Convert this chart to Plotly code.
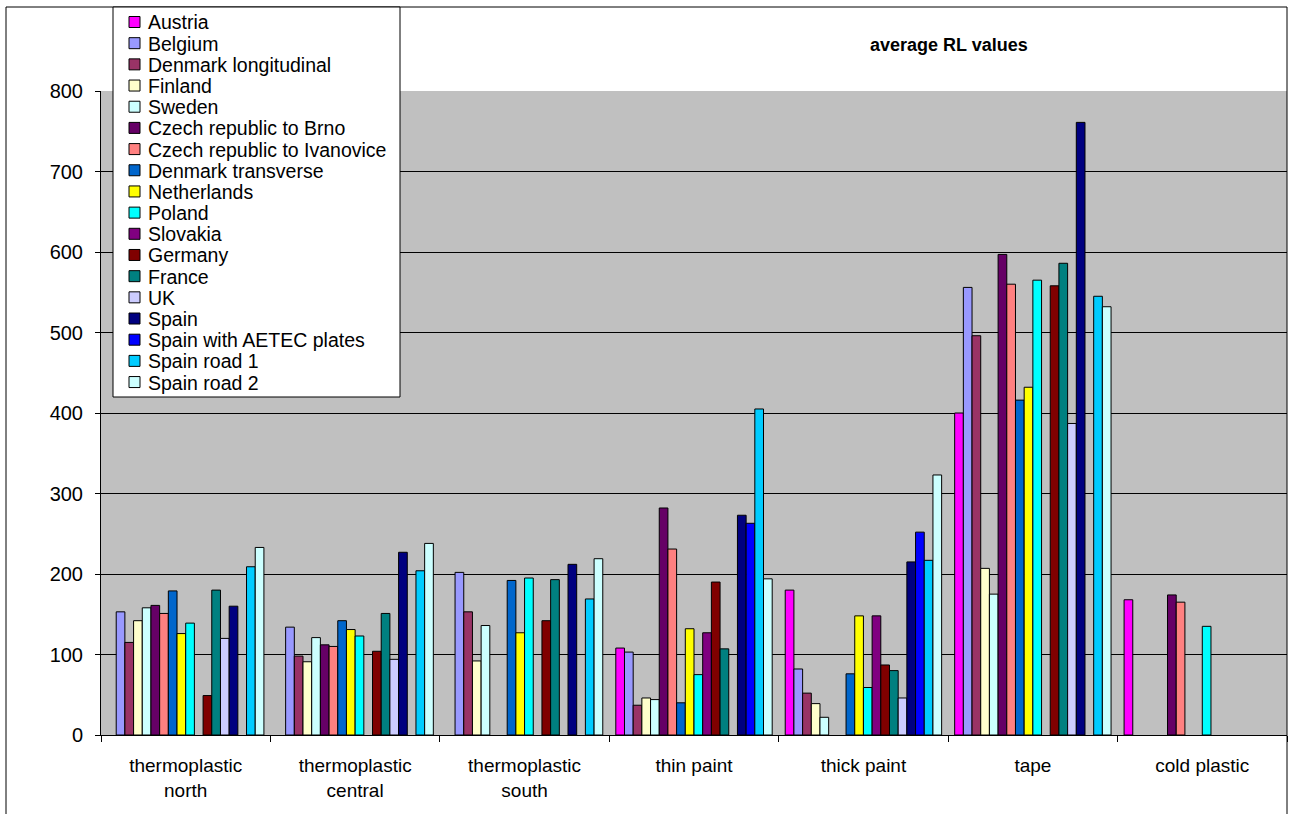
import plotly.graph_objects as go

# Road marking groups on the category axis
categories = [
    "thermoplastic<br>north",
    "thermoplastic<br>central",
    "thermoplastic<br>south",
    "thin paint",
    "thick paint",
    "tape",
    "cold plastic",
]

series_names = [
    "Austria",
    "Belgium",
    "Denmark longitudinal",
    "Finland",
    "Sweden",
    "Czech republic to Brno",
    "Czech republic to Ivanovice",
    "Denmark transverse",
    "Netherlands",
    "Poland",
    "Slovakia",
    "Germany",
    "France",
    "UK",
    "Spain",
    "Spain with AETEC plates",
    "Spain road 1",
    "Spain road 2",
]

# Average RL values per country / site (None = not measured)
austria = [None, None, None, 108, 180, 400, 168]
belgium = [153, 134, 202, 103, 82, 556, None]
denmark_long = [115, 98, 153, 37, 52, 496, None]
finland = [142, 91, 92, 46, 39, 207, None]
sweden = [158, 121, 136, 44, 22, 175, None]
czech_brno = [161, 112, None, 282, None, 597, 174]
czech_ivanovice = [151, 110, None, 231, None, 560, 165]
denmark_trans = [179, 142, 192, 40, 76, 416, None]
netherlands = [126, 131, 127, 132, 148, 432, None]
poland = [139, 123, 195, 75, 59, 565, 135]
slovakia = [None, None, None, 127, 148, None, None]
germany = [49, 104, 142, 190, 87, 558, None]
france = [180, 151, 193, 107, 80, 586, None]
uk = [120, 94, None, None, 46, 387, None]
spain = [160, 227, 212, 273, 215, 761, None]
spain_aetec = [None, None, None, 263, 252, None, None]
spain_road1 = [209, 204, 169, 405, 217, 545, None]
spain_road2 = [233, 238, 219, 194, 323, 532, None]

series_values = [
    austria, belgium, denmark_long, finland, sweden, czech_brno,
    czech_ivanovice, denmark_trans, netherlands, poland, slovakia,
    germany, france, uk, spain, spain_aetec, spain_road1, spain_road2,
]

colors = [
    "#FF00FF", "#9999FF", "#993366", "#FFFFCC", "#CCFFFF", "#660066",
    "#FF8080", "#0066CC", "#FFFF00", "#00FFFF", "#800080", "#800000",
    "#008080", "#CCCCFF", "#000080", "#0000FF", "#00CCFF", "#CCFFFF",
]

y_ticks = [0, 100, 200, 300, 400, 500, 600, 700, 800]

FONT = "Liberation Sans, Arial, sans-serif"
W, H = 1289, 814
L, R, T, B = 101, 2, 91, 79
PW = W - L - R
PH = H - T - B


def px_x(x):
    return (x - L) / PW


def px_y(y):
    return (H - B - y) / PH


fig = go.Figure()
for name, vals, col in zip(series_names, series_values, colors):
    fig.add_trace(go.Bar(
        x=categories, y=vals, name=name,
        marker=dict(color=col, line=dict(color="#000000", width=1)),
        showlegend=False,
    ))

shapes = []
annotations = []

# Outer chart frame
shapes.append(dict(
    type="rect", xref="paper", yref="paper", layer="above",
    x0=px_x(6), x1=px_x(1287), y0=px_y(830), y1=px_y(7),
    line=dict(color="#000000", width=1), fillcolor="rgba(0,0,0,0)",
))

# Legend box
shapes.append(dict(
    type="rect", xref="paper", yref="paper", layer="above",
    x0=px_x(113), x1=px_x(400), y0=px_y(397), y1=px_y(7),
    line=dict(color="#000000", width=1), fillcolor="#FFFFFF",
))

row_h = 21.18
for i, (name, col) in enumerate(zip(series_names, colors)):
    cy = 22 + i * row_h
    shapes.append(dict(
        type="rect", xref="paper", yref="paper", layer="above",
        x0=px_x(129), x1=px_x(140), y0=px_y(cy + 5.5), y1=px_y(cy - 5.5),
        line=dict(color="#000000", width=1), fillcolor=col,
    ))
    annotations.append(dict(
        text=name, xref="paper", yref="paper", showarrow=False,
        x=px_x(146), y=px_y(cy + 0.5), xanchor="left", yanchor="middle",
        font=dict(family=FONT, size=19.5, color="#000000"),
    ))

# Chart title
annotations.append(dict(
    text="<b>average RL values</b>", xref="paper", yref="paper",
    showarrow=False, x=px_x(949), y=px_y(45),
    xanchor="center", yanchor="middle",
    font=dict(family=FONT, size=18, color="#000000"),
))

fig.update_layout(
    width=W, height=H,
    margin=dict(l=L, r=R, t=T, b=B, pad=0),
    paper_bgcolor="#FFFFFF",
    plot_bgcolor="#C0C0C0",
    barmode="group",
    bargap=1.5 / 19.5,
    bargroupgap=0,
    font=dict(family=FONT, size=19, color="#000000"),
    shapes=shapes,
    annotations=annotations,
    xaxis=dict(
        type="category",
        showline=True, linecolor="#000000", linewidth=1,
        ticks="outside", ticklen=6, tickcolor="#000000",
        tickson="boundaries",
        showgrid=False,
        tickfont=dict(family=FONT, size=19, color="#000000"),
        ticklabelstandoff=13,
    ),
    yaxis=dict(
        range=[0, 800],
        tickvals=y_ticks,
        showline=True, linecolor="#000000", linewidth=1,
        ticks="outside", ticklen=5, tickcolor="#000000",
        showgrid=True, gridcolor="#000000", gridwidth=1,
        zeroline=False,
        tickfont=dict(family=FONT, size=20, color="#000000"),
        ticklabelstandoff=8,
    ),
)

fig.write_html("out.html")
